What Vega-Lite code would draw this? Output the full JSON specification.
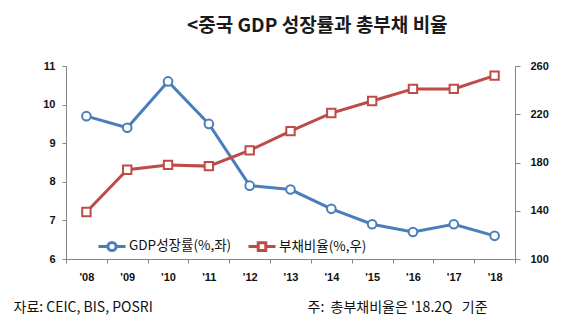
{
  "$schema": "https://vega.github.io/schema/vega-lite/v6.json",
  "width": 449,
  "height": 193,
  "autosize": {"type": "none"},
  "padding": {"left": 66, "top": 66, "right": 63, "bottom": 75},
  "background": "white",
  "title": {
    "text": "<중국 GDP 성장률과 총부채 비율",
    "anchor": "start",
    "dx": 174,
    "offset": 24,
    "font": "Noto Sans CJK KR",
    "fontSize": 19,
    "fontWeight": "bold",
    "color": "#1a1a1a"
  },
  "data": {
    "values": [
      {"year": "'08", "series": "GDP성장률(%,좌)", "value": 9.7},
      {"year": "'09", "series": "GDP성장률(%,좌)", "value": 9.4},
      {"year": "'10", "series": "GDP성장률(%,좌)", "value": 10.6},
      {"year": "'11", "series": "GDP성장률(%,좌)", "value": 9.5},
      {"year": "'12", "series": "GDP성장률(%,좌)", "value": 7.9},
      {"year": "'13", "series": "GDP성장률(%,좌)", "value": 7.8},
      {"year": "'14", "series": "GDP성장률(%,좌)", "value": 7.3},
      {"year": "'15", "series": "GDP성장률(%,좌)", "value": 6.9},
      {"year": "'16", "series": "GDP성장률(%,좌)", "value": 6.7},
      {"year": "'17", "series": "GDP성장률(%,좌)", "value": 6.9},
      {"year": "'18", "series": "GDP성장률(%,좌)", "value": 6.6},
      {"year": "'08", "series": "부채비율(%,우)", "value": 139},
      {"year": "'09", "series": "부채비율(%,우)", "value": 174},
      {"year": "'10", "series": "부채비율(%,우)", "value": 178},
      {"year": "'11", "series": "부채비율(%,우)", "value": 177},
      {"year": "'12", "series": "부채비율(%,우)", "value": 190},
      {"year": "'13", "series": "부채비율(%,우)", "value": 206},
      {"year": "'14", "series": "부채비율(%,우)", "value": 221},
      {"year": "'15", "series": "부채비율(%,우)", "value": 231},
      {"year": "'16", "series": "부채비율(%,우)", "value": 241},
      {"year": "'17", "series": "부채비율(%,우)", "value": 241},
      {"year": "'18", "series": "부채비율(%,우)", "value": 252}
    ]
  },
  "layer": [
    {
      "transform": [{"filter": {"field": "series", "equal": "GDP성장률(%,좌)"}}],
      "encoding": {
        "x": {
          "field": "year", "type": "ordinal", "sort": null, "bandPosition": 0.5,
          "scale": {"type": "band", "paddingInner": 0, "paddingOuter": 0},
          "axis": {
            "title": "자료: CEIC, BIS, POSRI",
            "titleX": -53, "titleY": 48, "titleAlign": "left", "titleBaseline": "middle",
            "titleFont": "Noto Sans CJK KR", "titleFontSize": 14, "titleFontWeight": "normal", "titleColor": "#111",
            "labelAngle": 0, "tickBand": "extent", "tickSize": 4, "labelPadding": 8,
            "domainColor": "#868686", "tickColor": "#868686",
            "labelFont": "Liberation Sans", "labelFontSize": 11, "labelFontWeight": "bold", "labelColor": "#111"
          }
        },
        "y": {
          "field": "value", "type": "quantitative",
          "scale": {"domain": [6, 11], "nice": false, "zero": false},
          "axis": {
            "orient": "left", "title": null, "values": [6, 7, 8, 9, 10, 11], "grid": false,
            "tickSize": 4, "labelPadding": 7, "domainColor": "#868686", "tickColor": "#868686",
            "labelFont": "Liberation Sans", "labelFontSize": 11, "labelFontWeight": "bold", "labelColor": "#111"
          }
        }
      },
      "layer": [
        {
          "mark": {"type": "line", "strokeWidth": 3},
          "encoding": {
            "color": {
              "field": "series", "type": "nominal",
              "scale": {"domain": ["GDP성장률(%,좌)", "부채비율(%,우)"], "range": ["#4A7EBB", "#BE4B48"]},
              "legend": {
                "orient": "none", "legendX": 31, "legendY": 165, "direction": "horizontal", "title": null,
                "symbolSize": 729, "symbolStrokeWidth": 3, "columnPadding": 10, "labelOffset": 2,
                "labelFont": "Noto Sans CJK KR", "labelFontSize": 13.5, "labelColor": "#111",
                "encode": {
                  "symbols": {
                    "update": {
                      "fill": {"value": "white"},
                      "shape": {"signal": "datum.index === 0 ? 'M-1,0L-0.32,0M0.32,0L1,0M-0.3,0A0.3,0.3,0,1,0,0.3,0A0.3,0.3,0,1,0,-0.3,0Z' : 'M-1,0L-0.3,0M0.3,0L1,0M-0.28,-0.28L0.28,-0.28L0.28,0.28L-0.28,0.28Z'"}
                    }
                  }
                }
              }
            }
          }
        },
        {
          "mark": {"type": "point", "shape": "circle", "filled": true, "fill": "white", "stroke": "#4A7EBB", "strokeWidth": 2, "size": 75, "opacity": 1}
        }
      ]
    },
    {
      "transform": [{"filter": {"field": "series", "equal": "부채비율(%,우)"}}],
      "encoding": {
        "x": {
          "field": "year", "type": "ordinal", "sort": null, "bandPosition": 0.5,
          "scale": {"type": "band", "paddingInner": 0, "paddingOuter": 0}
        },
        "y": {
          "field": "value", "type": "quantitative",
          "scale": {"domain": [100, 260], "nice": false, "zero": false},
          "axis": {
            "orient": "right", "values": [100, 140, 180, 220, 260], "grid": false,
            "title": "주:\u00a0\u00a0총부채비율은 '18.2Q\u00a0\u00a0\u00a0기준",
            "titleAngle": 0, "titleX": -208, "titleY": 241, "titleAlign": "left", "titleBaseline": "middle",
            "titleFont": "Noto Sans CJK KR", "titleFontSize": 14, "titleFontWeight": "normal", "titleColor": "#111",
            "tickSize": 5, "labelPadding": 10, "domainColor": "#868686", "tickColor": "#868686",
            "labelFont": "Liberation Sans", "labelFontSize": 11, "labelFontWeight": "bold", "labelColor": "#111"
          }
        }
      },
      "layer": [
        {
          "mark": {"type": "line", "strokeWidth": 3},
          "encoding": {"color": {"field": "series", "type": "nominal"}}
        },
        {
          "mark": {"type": "point", "shape": "square", "filled": true, "fill": "white", "stroke": "#BE4B48", "strokeWidth": 2, "size": 70, "opacity": 1}
        }
      ]
    }
  ],
  "resolve": {"scale": {"y": "independent"}},
  "config": {"view": {"stroke": null}}
}
